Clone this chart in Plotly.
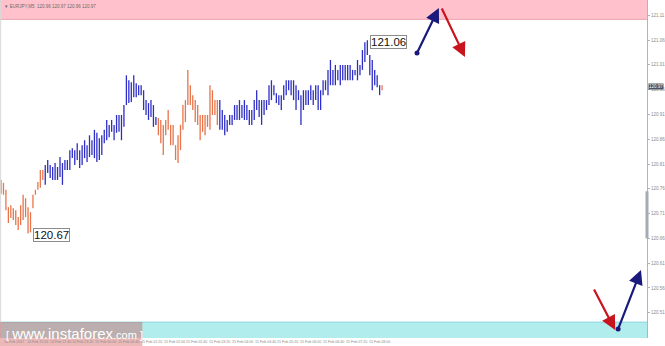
import plotly.graph_objects as go

# ---------------- data ----------------
highs = [120.778, 120.772, 120.758, 120.723, 120.727, 120.721, 120.717, 120.703, 120.727, 120.748,
         120.741, 120.723, 120.713, 120.748, 120.758, 120.774, 120.798, 120.798, 120.808, 120.818,
         120.808, 120.804, 120.812, 120.804, 120.824, 120.812, 120.818, 120.818, 120.838, 120.842,
         120.838, 120.852, 120.838, 120.848, 120.858, 120.848, 120.868, 120.858, 120.879, 120.873,
         120.862, 120.868, 120.879, 120.899, 120.889, 120.899, 120.889, 120.909, 120.909, 120.909,
         120.929, 120.989, 120.979, 120.975, 120.989, 120.973, 120.969, 120.969, 120.959, 120.939,
         120.933, 120.939, 120.929, 120.905, 120.903, 120.899, 120.889, 120.899, 120.919, 120.889,
         120.889, 120.848, 120.868, 120.889, 120.929, 120.939, 121.000, 120.969, 120.949, 120.939,
         120.929, 120.909, 120.909, 120.909, 120.909, 120.969, 120.959, 120.939, 120.939, 120.939,
         120.919, 120.909, 120.899, 120.909, 120.909, 120.929, 120.929, 120.939, 120.929, 120.939,
         120.929, 120.919, 120.919, 120.939, 120.959, 120.939, 120.939, 120.939, 120.939, 120.969,
         120.979, 120.969, 120.953, 120.949, 120.949, 120.969, 120.979, 120.979, 120.979, 120.979,
         120.969, 120.959, 120.949, 120.959, 120.959, 120.959, 120.969, 120.959, 120.969, 120.969,
         120.959, 120.979, 120.979, 121.000, 121.020, 121.000, 121.010, 121.000, 121.010, 121.010,
         121.010, 121.010, 121.010, 121.000, 121.000, 121.020, 121.010, 121.040, 121.056, 121.060,
         121.030, 121.020, 121.000, 120.989, 120.969, 120.969]
lows = [120.750, 120.748, 120.717, 120.691, 120.701, 120.697, 120.687, 120.677, 120.687, 120.697,
        120.703, 120.670, 120.672, 120.721, 120.748, 120.758, 120.762, 120.778, 120.768, 120.792,
        120.782, 120.778, 120.778, 120.778, 120.784, 120.768, 120.798, 120.798, 120.798, 120.822,
        120.808, 120.818, 120.802, 120.808, 120.822, 120.814, 120.824, 120.828, 120.822, 120.814,
        120.818, 120.828, 120.852, 120.858, 120.864, 120.875, 120.858, 120.873, 120.875, 120.858,
        120.885, 120.929, 120.933, 120.935, 120.945, 120.945, 120.949, 120.949, 120.919, 120.909,
        120.899, 120.905, 120.885, 120.889, 120.868, 120.852, 120.828, 120.868, 120.879, 120.848,
        120.848, 120.818, 120.812, 120.838, 120.879, 120.895, 120.929, 120.929, 120.919, 120.895,
        120.889, 120.858, 120.875, 120.868, 120.885, 120.879, 120.909, 120.909, 120.889, 120.879,
        120.879, 120.868, 120.875, 120.889, 120.889, 120.899, 120.899, 120.899, 120.903, 120.899,
        120.899, 120.889, 120.889, 120.899, 120.919, 120.905, 120.889, 120.909, 120.919, 120.929,
        120.939, 120.949, 120.933, 120.929, 120.919, 120.939, 120.949, 120.959, 120.949, 120.939,
        120.919, 120.939, 120.889, 120.919, 120.929, 120.929, 120.939, 120.929, 120.939, 120.919,
        120.919, 120.949, 120.959, 120.949, 120.969, 120.969, 120.969, 120.979, 120.969, 120.979,
        120.979, 120.979, 120.979, 120.979, 120.989, 120.979, 120.989, 121.000, 121.016, 121.030,
        120.989, 120.959, 120.969, 120.965, 120.949, 120.959]
wave = (["down"] * 18 + ["up"] * 46 + ["down"] * 25 + ["up"] * 66 + ["down"] * 1)
last_price = 120.966

time_labels = ["14 Feb 2017", "14 Feb 22:00", "14 Feb 22:40", "14 Feb 23:20", "15 Feb 00:00",
               "15 Feb 00:40", "15 Feb 01:20", "15 Feb 02:00", "15 Feb 02:40", "15 Feb 03:20",
               "15 Feb 04:00", "15 Feb 04:40", "15 Feb 05:20", "15 Feb 06:00", "15 Feb 06:40",
               "15 Feb 07:20", "15 Feb 08:00"]
price_ticks = [121.11, 121.06, 121.01, 120.96, 120.91, 120.86, 120.81, 120.76,
               120.71, 120.66, 120.61, 120.56, 120.51]

resistance_zone = [121.102, 121.30]
support_zone = [120.30, 120.491]

# forecast arrows: (bar index, price) tail -> head
forecast_up_1 = [(169.2, 121.034), (178.1, 121.125)]
forecast_down_1 = [(179.0, 121.127), (188.7, 121.026)]
forecast_down_2 = [(240.9, 120.560), (249.8, 120.475)]
forecast_up_2 = [(251.0, 120.477), (260.3, 120.596)]

header = "\u25bc EURJPY,M5  120.96 120.97 120.96 120.97"

# ---------------- figure ----------------
BLUE = "#2e2ec4"
ORANGE = "#e8744a"

fig = go.Figure()
for w, col in (("up", BLUE), ("down", ORANGE)):
    xs, ys = [], []
    for i, (h, l, d) in enumerate(zip(highs, lows, wave)):
        if d != w:
            continue
        xs += [i, i, None]
        ys += [l, h, None]
    fig.add_trace(go.Scatter(x=xs, y=ys, mode="lines", line=dict(color=col, width=1.3),
                             hoverinfo="skip", showlegend=False))

shapes = [
    dict(type="rect", xref="paper", yref="y", x0=0, x1=1, y0=resistance_zone[0], y1=resistance_zone[1],
         fillcolor="#ffc2cc", line=dict(width=0), layer="below"),
    dict(type="line", xref="paper", yref="y", x0=0, x1=1, y0=resistance_zone[0], y1=resistance_zone[0],
         line=dict(color="#e9a2ad", width=1)),
    dict(type="rect", xref="paper", yref="y", x0=0, x1=1, y0=support_zone[0], y1=support_zone[1],
         fillcolor="#b1eded", line=dict(width=0), layer="below"),
    dict(type="line", xref="paper", yref="y", x0=0, x1=1, y0=support_zone[1], y1=support_zone[1],
         line=dict(color="#86d2de", width=1)),
    dict(type="line", xref="paper", yref="paper", x0=0.001, x1=0.001, y0=0, y1=1,
         line=dict(color="#d8d8d8", width=1)),
    dict(type="line", xref="paper", yref="y", x0=1.0, x1=1.0, y0=120.66, y1=120.755,
         line=dict(color="#a3abb3", width=3)),
    # watermark box
    dict(type="rect", xref="paper", yref="paper", x0=0, x1=0.22, y0=-0.03, y1=0.047,
         fillcolor="rgba(205,70,70,0.38)", line=dict(width=0), layer="above"),
]

annotations = []
# time labels
for k, t in enumerate(time_labels):
    annotations.append(dict(x=0.4 + 9.27 * k, y=-0.011, xref="x", yref="paper", text=t,
                            showarrow=False, xanchor="left", yanchor="middle",
                            font=dict(size=3.6, color="#8a8a8a", family="Liberation Sans")))
# high / low labels
lo_i = min(range(len(lows)), key=lambda i: lows[i])
hi_i = max(range(len(highs)), key=lambda i: highs[i])
for xi, val in ((lo_i + 1.95, lows[lo_i]), (hi_i + 1.2, highs[hi_i])):
    annotations.append(dict(x=xi, y=val, xref="x", yref="y", text=f"{val:.2f}", showarrow=False,
                            xanchor="left", yanchor="middle", yshift=-2,
                            font=dict(size=11.5, color="#111111", family="Liberation Sans"),
                            bgcolor="white", bordercolor="#8c8c8c", borderwidth=1, borderpad=0))
# forecast arrows
for seg, col in ((forecast_up_1, "#1a1a7c"), (forecast_down_1, "#c8141e"),
                 (forecast_down_2, "#c8141e"), (forecast_up_2, "#1a1a7c")):
    (tx, ty), (hx, hy) = seg
    annotations.append(dict(x=hx, y=hy, ax=tx, ay=ty, xref="x", yref="y", axref="x", ayref="y",
                            text="", showarrow=True, arrowhead=2, arrowsize=1.3, arrowwidth=2.2,
                            arrowcolor=col, standoff=0, startstandoff=0))
# blue start dots
fig.add_trace(go.Scatter(x=[forecast_up_1[0][0], forecast_up_2[0][0]],
                         y=[forecast_up_1[0][1], forecast_up_2[0][1]], mode="markers",
                         marker=dict(color="#1a1a7c", size=5), hoverinfo="skip", showlegend=False))
# current price tag
annotations.append(dict(x=1.0, y=last_price, xref="paper", yref="y", text=f"{last_price:.2f}",
                        showarrow=False, xanchor="left", yanchor="middle", xshift=1,
                        font=dict(size=4.5, color="white", family="Liberation Sans"),
                        bgcolor="#4c5462", borderpad=0))
# header
annotations.append(dict(x=0.003, y=0.995, xref="paper", yref="paper", text=header, showarrow=False,
                        xanchor="left", yanchor="top",
                        font=dict(size=4.5, color="#6a6a6a", family="Liberation Sans")))
# watermark
annotations.append(dict(x=0.006, y=0.012, xref="paper", yref="paper",
                        text="[ <span style='font-size:15px'>www.instaforex</span>.com ]",
                        showarrow=False, xanchor="left", yanchor="middle",
                        font=dict(size=11, color="white", family="Liberation Sans")))

fig.update_layout(
    width=665, height=346,
    margin=dict(l=0, r=15, t=0, b=8),
    paper_bgcolor="white", plot_bgcolor="white",
    xaxis=dict(range=[-0.405, 262.75], visible=False, fixedrange=True),
    yaxis=dict(range=[120.459, 121.141], side="right", tickvals=price_ticks,
               ticktext=[f"{v:.2f}" for v in price_ticks],
               tickfont=dict(size=4.5, color="#8a8a8a", family="Liberation Sans"),
               showline=True, linecolor="#b4b4b4", linewidth=1, ticks="outside", ticklen=2,
               tickcolor="#b4b4b4", showgrid=False, zeroline=False),
    shapes=shapes, annotations=annotations, showlegend=False,
)
fig.write_html("out.html")
